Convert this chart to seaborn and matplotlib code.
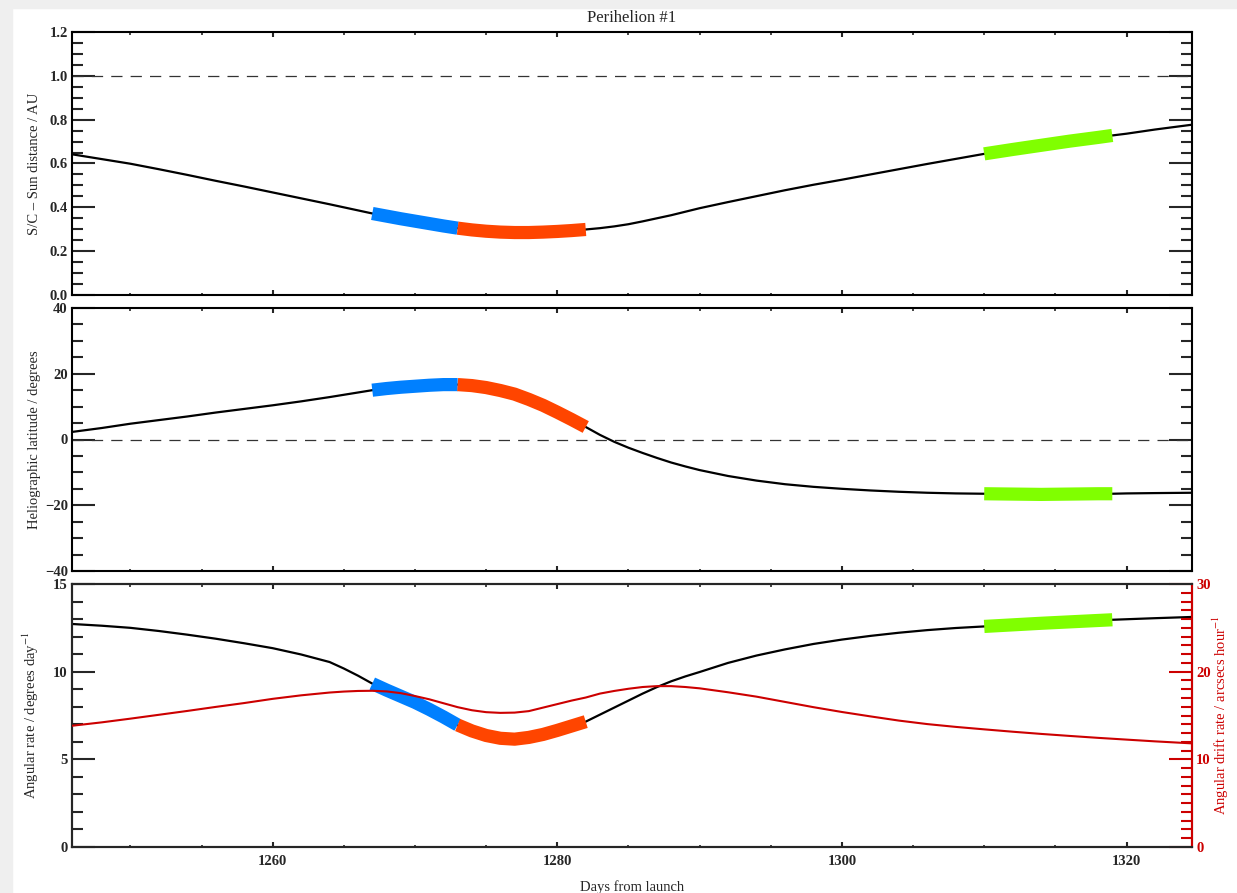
import numpy as np
import pandas as pd
import matplotlib
matplotlib.use("Agg")
import matplotlib.pyplot as plt
import seaborn as sns
from matplotlib.ticker import MultipleLocator, FormatStrFormatter
from matplotlib.patches import Rectangle

# --- DATA ---
days = [1245.9, 1248, 1250, 1252, 1254, 1256, 1258, 1260, 1262, 1264,
        1265, 1266, 1267, 1268, 1269, 1270, 1271, 1272, 1273, 1274,
        1275, 1276, 1277, 1278, 1279, 1280, 1281, 1282, 1283, 1284,
        1285, 1286, 1287, 1288, 1289, 1290, 1292, 1294, 1296, 1298,
        1300, 1302, 1304, 1306, 1308, 1310, 1312, 1314, 1316, 1318,
        1319, 1320, 1322, 1324.6]

sun_dist = [0.642, 0.620, 0.599, 0.574, 0.548, 0.521, 0.495, 0.468, 0.441, 0.414,
            0.400, 0.386, 0.372, 0.360, 0.348, 0.337, 0.326, 0.315, 0.305, 0.297,
            0.291, 0.287, 0.285, 0.285, 0.287, 0.290, 0.294, 0.299, 0.305, 0.313,
            0.323, 0.336, 0.350, 0.364, 0.380, 0.396, 0.424, 0.451, 0.478, 0.503,
            0.526, 0.550, 0.574, 0.598, 0.621, 0.644, 0.664, 0.683, 0.702, 0.719,
            0.728, 0.736, 0.755, 0.777]

latitude = [2.3, 3.5, 4.8, 5.9, 7.0, 8.2, 9.3, 10.4, 11.6, 12.9,
            13.6, 14.3, 15.0, 15.5, 15.9, 16.2, 16.5, 16.7, 16.7, 16.4,
            15.8, 14.9, 13.8, 12.2, 10.4, 8.3, 6.1, 3.8, 1.4, -0.7,
            -2.5, -4.1, -5.6, -7.0, -8.2, -9.3, -11.1, -12.5, -13.6, -14.4,
            -15.0, -15.5, -15.9, -16.2, -16.4, -16.5, -16.6, -16.7, -16.6, -16.5,
            -16.5, -16.4, -16.3, -16.2]

ang_rate = [12.72, 12.62, 12.50, 12.32, 12.11, 11.88, 11.62, 11.34, 10.98, 10.55,
            10.18, 9.77, 9.32, 8.95, 8.60, 8.25, 7.85, 7.42, 6.96, 6.62,
            6.36, 6.20, 6.15, 6.25, 6.42, 6.65, 6.90, 7.15, 7.55, 7.95,
            8.35, 8.75, 9.12, 9.45, 9.73, 9.98, 10.50, 10.92, 11.27, 11.58,
            11.83, 12.04, 12.22, 12.37, 12.49, 12.58, 12.67, 12.76, 12.84, 12.92,
            12.96, 12.99, 13.05, 13.12]

drift_rate = [13.83, 14.22, 14.64, 15.08, 15.52, 15.98, 16.42, 16.90, 17.30, 17.62,
              17.73, 17.80, 17.82, 17.75, 17.55, 17.22, 16.85, 16.40, 15.95, 15.60,
              15.38, 15.30, 15.33, 15.50, 15.90, 16.30, 16.70, 17.05, 17.50, 17.80,
              18.05, 18.25, 18.35, 18.35, 18.25, 18.10, 17.65, 17.15, 16.55, 15.95,
              15.40, 14.90, 14.42, 14.02, 13.70, 13.42, 13.15, 12.90, 12.67, 12.45,
              12.35, 12.25, 12.05, 11.82]

# observing windows highlighted on the curves
segments = [(1267, 1273, '#0080FF'),
            (1273, 1282, '#FF4500'),
            (1310, 1319, '#80FF00')]

XLIM = (1245.9, 1324.6)
RED = '#CC0000'

df = pd.DataFrame({'day': days, 'dist': sun_dist, 'lat': latitude,
                   'rate': ang_rate, 'drift': drift_rate})

# --- STYLE ---
sns.set_style("ticks")
plt.rcParams['font.family'] = ['Liberation Serif', 'DejaVu Serif']
plt.rcParams['mathtext.fontset'] = 'stix'
plt.rcParams['axes.linewidth'] = 1.5

fig = plt.figure(figsize=(12.37, 8.93), dpi=100)
fig.patches.append(Rectangle((0, 1 - 8 / 893), 1, 8 / 893, transform=fig.transFigure,
                             color='#efefef', zorder=0))
fig.patches.append(Rectangle((0, 0), 12 / 1237, 1, transform=fig.transFigure,
                             color='#efefef', zorder=0))

left, width, height = 72 / 1237, 1120 / 1237, 263 / 893
ax1 = fig.add_axes([left, 1 - 295 / 893, width, height])
ax2 = fig.add_axes([left, 1 - 571 / 893, width, height])
ax3 = fig.add_axes([left, 1 - 847 / 893, width, height])


def style_axis(ax, right_ticks=True):
    ax.set_xlim(*XLIM)
    ax.xaxis.set_major_locator(MultipleLocator(20))
    ax.xaxis.set_minor_locator(MultipleLocator(5))
    ax.tick_params(axis='x', which='major', direction='in', length=3.5, width=1.5,
                   top=True, bottom=True, pad=6, labelsize=10.5)
    ax.tick_params(axis='x', which='minor', direction='in', length=1.8, width=1.2,
                   top=True, bottom=True)
    ax.tick_params(axis='y', which='major', direction='in', length=16.5, width=1.5,
                   left=True, right=right_ticks, pad=3, labelsize=10.5)
    ax.tick_params(axis='y', which='minor', direction='in', length=8, width=1.5,
                   left=True, right=right_ticks)
    for s in ax.spines.values():
        s.set_linewidth(1.5)
        s.set_color('black')
    for lab in ax.get_xticklabels() + ax.get_yticklabels():
        lab.set_fontweight('bold')
    ax.grid(False)


def draw_curve(ax, col):
    sns.lineplot(data=df, x='day', y=col, ax=ax, color='black', lw=1.6, zorder=3)
    for start, end, c in segments:
        part = df[(df['day'] >= start) & (df['day'] <= end)]
        sns.lineplot(data=part, x='day', y=col, ax=ax, color=c, lw=9.5,
                     solid_capstyle='butt', zorder=4)


# panel 1: distance
draw_curve(ax1, 'dist')
ax1.axhline(1.0, color='#333333', lw=0.9, dashes=(9, 6.5), zorder=2)
ax1.set_ylim(0, 1.2)
ax1.yaxis.set_major_locator(MultipleLocator(0.2))
ax1.yaxis.set_minor_locator(MultipleLocator(0.05))
ax1.yaxis.set_major_formatter(FormatStrFormatter('%.1f'))
ax1.set_ylabel('S/C \u2013 Sun distance / AU', fontsize=10.5)
ax1.set_xlabel('')
ax1.set_title('Perihelion #1', fontsize=12, pad=7)
style_axis(ax1)
ax1.tick_params(axis='x', labelbottom=False)

# panel 2: latitude
draw_curve(ax2, 'lat')
ax2.axhline(0.0, color='#333333', lw=0.9, dashes=(9, 6.5), zorder=2)
ax2.set_ylim(-40, 40)
ax2.yaxis.set_major_locator(MultipleLocator(20))
ax2.yaxis.set_minor_locator(MultipleLocator(5))
ax2.set_ylabel('Heliographic latitude / degrees', fontsize=10.5)
ax2.set_xlabel('')
style_axis(ax2)
ax2.tick_params(axis='x', labelbottom=False)

# panel 3: angular rate + drift rate
draw_curve(ax3, 'rate')
ax3.set_ylim(0, 15)
ax3.yaxis.set_major_locator(MultipleLocator(5))
ax3.yaxis.set_minor_locator(MultipleLocator(1))
ax3.set_ylabel('Angular rate / degrees day$^{-1}$', fontsize=10.5)
ax3.set_xlabel('Days from launch', fontsize=10.5)
style_axis(ax3, right_ticks=False)

ax4 = ax3.twinx()
sns.lineplot(data=df, x='day', y='drift', ax=ax4, color=RED, lw=1.5, zorder=5)
ax4.set_xlim(*XLIM)
ax4.set_ylim(0, 30)
ax4.yaxis.set_major_locator(MultipleLocator(10))
ax4.yaxis.set_minor_locator(MultipleLocator(1))
ax4.tick_params(axis='y', which='major', direction='in', length=16.5, width=1.5,
                colors=RED, pad=3, labelsize=10.5)
ax4.tick_params(axis='y', which='minor', direction='in', length=8, width=1.5, colors=RED)
ax4.spines['right'].set_color(RED)
ax4.spines['right'].set_linewidth(1.5)
ax4.set_ylabel('Angular drift rate / arcsecs hour$^{-1}$', color=RED, fontsize=10.5)
for lab in ax4.get_yticklabels():
    lab.set_fontweight('bold')
ax4.grid(False)

for ax in (ax1, ax2, ax3):
    ax.yaxis.set_label_coords(-0.028, 0.5)
ax4.yaxis.set_label_coords(1.017, 0.5)
ax3.xaxis.set_label_coords(0.5, -0.125)

fig.savefig('out.png', dpi=100)
